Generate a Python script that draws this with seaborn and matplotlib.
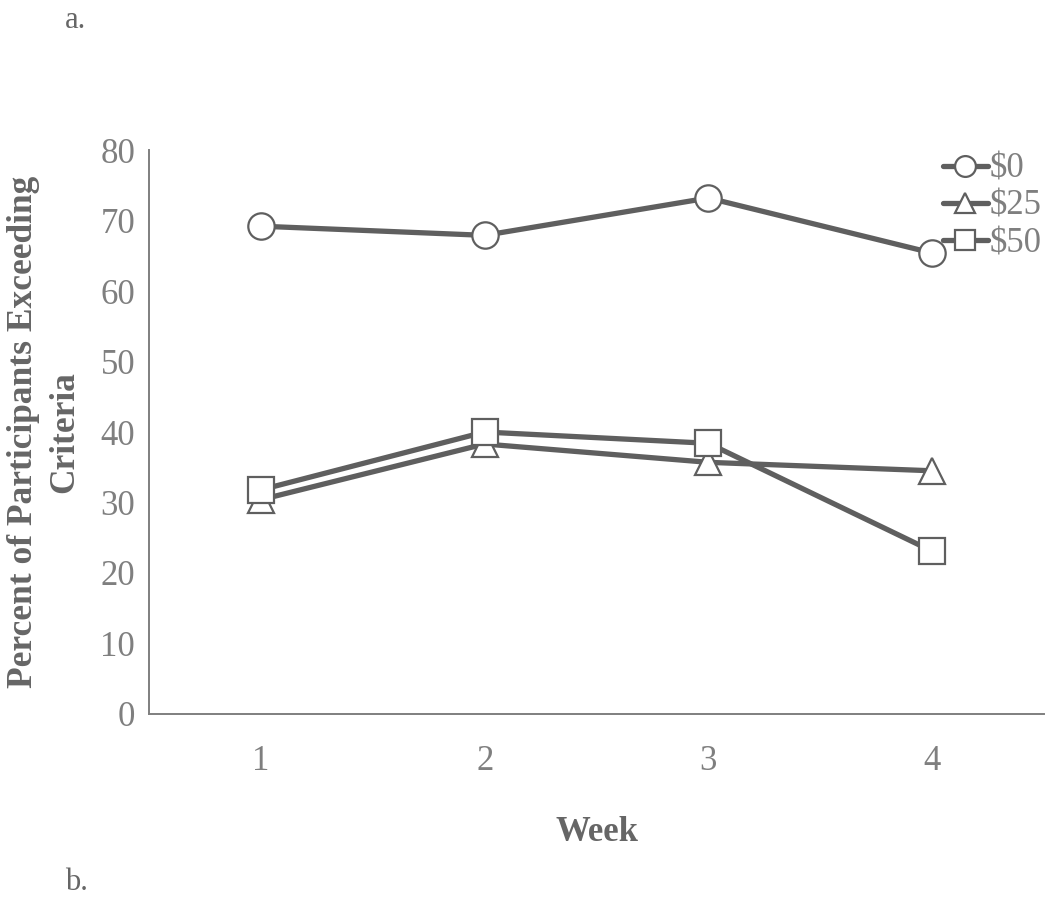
import pandas as pd
import numpy as np
import seaborn as sns
import matplotlib.pyplot as plt
from matplotlib.lines import Line2D

# data
weeks = [1, 2, 3, 4]
groups = ["$0", "$25", "$50"]
pct_0 = [69.2, 67.9, 73.2, 65.4]
pct_25 = [30.4, 38.3, 35.7, 34.5]
pct_50 = [31.8, 40.0, 38.4, 23.1]

df = pd.DataFrame({
    "Week": weeks * 3,
    "Group": [g for g in groups for _ in weeks],
    "Percent": pct_0 + pct_25 + pct_50,
})

sns.set_style("white")
plt.rcParams["font.family"] = ["Liberation Serif", "DejaVu Serif"]

line_col = "#5f5f5f"
tick_col = "#7f7f7f"
marks = {"$0": "o", "$25": "^", "$50": "s"}

fig = plt.figure(figsize=(10.5, 9.15), dpi=100)
ax = fig.add_axes([0.1419, 0.2197, 0.8524, 0.6163])

sns.lineplot(data=df, x="Week", y="Percent", hue="Group", style="Group",
             palette=[line_col] * 3, markers=marks, dashes=False,
             linewidth=3.8, markersize=19, markerfacecolor="white",
             markeredgecolor=line_col, markeredgewidth=1.6,
             legend=False, ax=ax)

ax.set_xlim(0.5, 4.5)
ax.set_ylim(0, 80)
ax.set_xticks(weeks)
ax.set_xticks([4.5], minor=True)
ax.set_yticks(range(0, 81, 10))
ax.tick_params(axis="both", which="both", direction="in", length=7,
               width=1.2, color=tick_col, labelsize=25, labelcolor=tick_col)
ax.tick_params(axis="x", pad=22)
ax.tick_params(axis="y", pad=10)
for s in ["top", "right"]:
    ax.spines[s].set_visible(False)
for s in ["left", "bottom"]:
    ax.spines[s].set_color(tick_col)
    ax.spines[s].set_linewidth(1.4)

ax.set_xlabel("Week", fontsize=25, fontweight="bold", color="#666666", labelpad=28)
ax.set_ylabel("Percent of Participants Exceeding\nCriteria", fontsize=25.5,
              fontweight="bold", color="#666666", labelpad=14, linespacing=1.3)

handles = [Line2D([], [], color=line_col, lw=3.8, marker=marks[g], markersize=15,
                  markerfacecolor="white", markeredgecolor=line_col,
                  markeredgewidth=1.6) for g in groups]
fig.legend(handles, ["\\" + g for g in groups], loc="upper left",
           bbox_to_anchor=(0.898, 0.833), frameon=False, fontsize=25,
           handlelength=1.3, handletextpad=0.05, labelspacing=0.12,
           labelcolor=tick_col, borderaxespad=0, borderpad=0)

fig.text(0.062, 0.978, "a.", fontsize=22, color="#666666", va="center")
fig.text(0.062, 0.035, "b.", fontsize=22, color="#666666", va="center")

plt.savefig("out.png", dpi=100)
